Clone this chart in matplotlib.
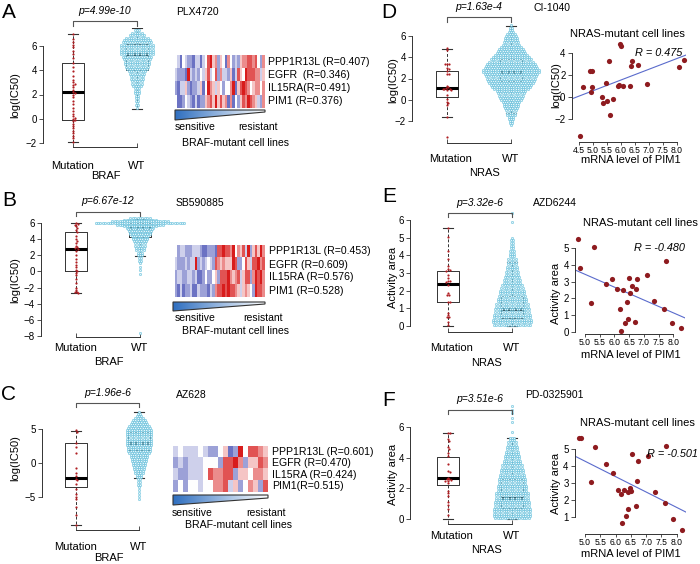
import numpy as np
import matplotlib.pyplot as plt
from matplotlib.colors import LinearSegmentedColormap
from matplotlib.lines import Line2D
from matplotlib.patches import Polygon

plt.rcParams['font.family'] = ['Liberation Sans', 'DejaVu Sans']

W, H = 700, 564

# ---------------- data ----------------
# mutant cell lines (strip points) and box stats (whislo, q1, med, q3, whishi)
a_mut = [7.0, 6.6, 6.3, 6.1, 5.9, 5.6, 5.3, 5.0, 4.6, 4.3, 3.9, 3.5, 3.2, 3.0, 2.9, 2.8, 2.6, 2.4, 2.2, 2.1,
         2.0, 1.8, 1.5, 1.2, 0.9, 0.6, 0.4, 0.2, 0.1, 0.0, -0.1, -0.2, -0.4, -0.6, -0.8, -1.0, -1.2, -1.4, -1.6, -1.9]
b_mut = [6.0, 5.9, 5.8, 5.6, 5.4, 5.1, 4.9, 4.4, 4.0, 3.8, 3.5, 3.2, 3.0, 2.9, 2.8, 2.5, 2.0, 1.6, 1.2, 0.8,
         0.5, 0.2, 0.0, -0.2, -0.5, -0.9, -1.4, -2.0, -2.3, -2.5, -2.6, -2.7]
c_mut = [4.8, 4.6, 2.9, 2.3, 1.5, -0.8, -1.4, -1.9, -2.3, -2.5, -3.1, -3.8, -4.6, -5.0, -5.3, -6.4, -7.6, -9.1]

a_box = [(-1.9, -0.1, 2.2, 4.6, 7.0), (0.8, 4.0, 5.3, 6.2, 7.45)]
b_box = [(-2.7, 0.05, 2.8, 4.85, 6.0), (1.9, 4.25, 5.4, 6.0, 6.5)]
c_box = [(-9.1, -3.6, -2.15, 3.0, 4.7), (-2.25, 1.9, 3.0, 4.6, 7.55)]
d_box = [(-1.65, 0.23, 1.08, 2.75, 4.75), (-1.28, 1.77, 2.65, 3.8, 6.9)]
e_box = [(0.02, 1.34, 2.38, 3.13, 5.53), (0.02, 0.44, 0.96, 1.72, 3.6)]
f_box = [(0.0, 2.22, 2.65, 4.07, 5.59), (0.0, 0.7, 1.39, 2.61, 5.3)]

# wild-type swarms: value of each swarm row and number of points in it
a_wt_lvl = [7.3, 7.1, 6.9, 6.7, 6.5, 6.3, 6.1, 5.9, 5.7, 5.5, 5.3, 5.1, 4.9, 4.7, 4.5, 4.3, 4.1, 3.9, 3.7, 3.5,
            3.3, 3.1, 2.9, 2.7, 2.5, 2.3, 2.1, 1.9, 1.7, 1.5, 1.3, 1.1, 0.9]
a_wt_n = [3, 5, 7, 10, 12, 13, 14, 14, 14, 14, 14, 13, 12, 11, 11, 10, 9, 8, 7, 6,
          6, 5, 5, 4, 3, 3, 3, 2, 2, 2, 1, 2, 1]
b_wt_lvl = [6.6, 6.4, 6.2, 6.0, 5.8, 5.6, 5.4, 5.2, 5.0, 4.8, 4.6, 4.4, 4.2, 4.0, 3.8, 3.5, 3.2, 2.9, 2.6, 2.3,
            2.0, 1.7, 1.3, 1.0, 0.6, 0.2, -0.3, -7.6]
b_wt_n = [9, 14, 24, 38, 20, 14, 12, 11, 10, 9, 9, 8, 7, 7, 6, 5, 5, 4, 4, 3,
          3, 2, 2, 1, 1, 1, 1, 1]
c_wt_lvl = [7.5, 7.2, 6.9, 6.6, 6.3, 6.0, 5.7, 5.4, 5.1, 4.8, 4.5, 4.2, 3.9, 3.6, 3.3, 3.0, 2.7, 2.4, 2.1, 1.8,
            1.5, 1.2, 0.9, 0.6, 0.3, 0.0, -0.3, -0.6, -0.9, -1.2, -1.5, -1.8, -2.1, -2.4, -2.8, -3.2, -3.6, -4.0,
            -4.4, -4.8, -5.3]
c_wt_n = [1, 2, 3, 4, 6, 7, 8, 9, 10, 11, 11, 11, 11, 11, 11, 11, 11, 10, 10, 10,
          9, 8, 8, 7, 7, 6, 6, 5, 5, 4, 4, 3, 3, 2, 2, 2, 1, 1, 1, 1, 1]
d_wt_lvl = [7.0, 6.8, 6.6, 6.4, 6.2, 6.0, 5.8, 5.6, 5.4, 5.2, 5.0, 4.8, 4.6, 4.4, 4.2, 4.0, 3.8, 3.6, 3.4, 3.2,
            3.0, 2.8, 2.6, 2.4, 2.2, 2.0, 1.8, 1.6, 1.4, 1.2, 1.0, 0.8, 0.6, 0.4, 0.2, 0.0, -0.2, -0.4, -0.6,
            -0.8, -1.0, -1.2, -1.4, -1.6, -1.8, -2.0, -2.2, -2.4]
d_wt_n = [1, 2, 2, 3, 4, 5, 6, 6, 7, 8, 9, 11, 12, 13, 14, 16, 18, 19, 21, 22,
          23, 24, 24, 23, 22, 21, 20, 19, 18, 17, 15, 13, 12, 11, 10, 9, 8, 7, 7,
          6, 5, 4, 4, 3, 3, 2, 2, 1]
e_wt_lvl = [6.4, 5.9, 5.0, 4.85, 4.7, 4.55, 4.4, 4.25, 4.1, 3.95, 3.8, 3.65, 3.5, 3.35, 3.2, 3.05, 2.9, 2.75,
            2.6, 2.45, 2.3, 2.15, 2.0, 1.85, 1.7, 1.55, 1.4, 1.25, 1.1, 0.95, 0.8, 0.65, 0.5, 0.35, 0.2, 0.05]
e_wt_n = [1, 1, 1, 2, 2, 2, 2, 3, 3, 3, 4, 4, 4, 5, 5, 6, 6, 7,
          8, 8, 9, 10, 11, 11, 12, 13, 13, 14, 14, 15, 15, 16, 16, 17, 17, 16]
f_wt_lvl = [7.35, 7.1, 6.9, 6.6, 6.3, 5.7, 5.3, 5.15, 5.0, 4.85, 4.7, 4.55, 4.4, 4.25, 4.1, 3.95, 3.8, 3.65,
            3.5, 3.35, 3.2, 3.05, 2.9, 2.75, 2.6, 2.45, 2.3, 2.15, 2.0, 1.85, 1.7, 1.55, 1.4, 1.25, 1.1, 0.95,
            0.8, 0.65, 0.5, 0.35, 0.2, 0.05]
f_wt_n = [1, 1, 1, 1, 1, 1, 3, 3, 4, 4, 5, 5, 6, 6, 7, 7, 8, 8,
          9, 9, 10, 10, 11, 11, 12, 12, 12, 13, 13, 13, 14, 14, 14, 14, 15, 15,
          15, 16, 16, 16, 16, 15]

# NRAS-mutant cell lines: PIM1 mRNA vs response
d_pim1 = [4.54, 4.64, 4.90, 4.98, 4.96, 4.92, 5.31, 5.37, 5.45, 5.51, 5.59, 5.62, 5.72, 5.89, 5.95, 5.98, 6.01,
          6.09, 6.32, 6.38, 6.39, 6.61, 6.93, 8.10, 8.27]
d_ic50 = [-3.5, 0.9, 2.4, 2.4, 0.9, 0.45, 0.03, -0.5, 1.33, -0.35, 3.33, -1.6, -0.2, 1.05, 1.1, 4.85, 4.65,
          1.0, 1.05, 2.87, 3.33, 2.95, 1.18, 2.73, 3.4]
e_pim1 = [4.77, 4.83, 5.32, 5.19, 5.70, 5.91, 6.10, 6.28, 6.19, 6.22, 6.36, 6.44, 6.45, 6.50, 6.53, 6.59, 6.71,
          6.72, 6.76, 7.11, 7.36, 7.70, 7.75, 7.97, 8.27]
e_act = [5.56, 3.8, 5.06, 1.74, 2.86, 3.16, 2.54, 2.5, 1.34, 0.04, 0.5, 1.77, 0.75, 3.2, 2.34, 2.74, 0.6,
         2.54, 3.14, 3.4, 1.86, 1.37, 4.24, 0.5, 0.2]
f_pim1 = [4.80, 4.87, 5.33, 5.20, 5.69, 5.90, 6.09, 6.17, 6.27, 6.20, 6.33, 6.41, 6.41, 6.47, 6.49, 6.55, 6.66,
          6.69, 6.72, 7.05, 7.29, 7.65, 7.61, 7.89, 8.16]
f_act = [5.64, 5.64, 5.1, 3.05, 4.12, 3.58, 2.6, 2.37, 2.6, 0.65, 1.1, 1.47, 2.5, 2.7, 2.56, 4.7, 1.68,
         3.1, 4.3, 4.59, 2.5, 5.19, 1.85, 0.9, 0.25]

# heatmaps (0 = deep blue, 4 = white, 8 = deep red), sensitive -> resistant
a_heat = ["431432213313478562541642325667767426",
          "322218323243573472633251375487776635",
          "213352122351486535424468157876456646",
          "411243213122567585756161425768765326"]
b_heat = ["423322233321122217787768465738257586",
          "322232338232343276565558722475377867",
          "233223323112422452777865673577268786",
          "213122311322213267787877653565428776"]
c_heat = ["3433343224512847765",
          "2323334442778625576",
          "3223334766772554665",
          "2424434466735246527"]
a_genes = ["PPP1R13L (R=0.407)", "EGFR  (R=0.346)", "IL15RA(R=0.491)", "PIM1 (R=0.376)"]
b_genes = ["PPP1R13L (R=0.453)", "EGFR (R=0.609)", "IL15RA (R=0.576)", "PIM1 (R=0.528)"]
c_genes = ["PPP1R13L (R=0.601)", "EGFR (R=0.470)", "IL15RA (R=0.424)", "PIM1(R=0.515)"]

# ---------------- helpers ----------------
fig = plt.figure(figsize=(7, 5.64), dpi=100)

AXC = '#333333'
RED = '#b01e23'
heat_cmap = LinearSegmentedColormap.from_list('bwr2', ['#3a44b0', '#ffffff', '#d81c1c'])
tri_cmap = LinearSegmentedColormap.from_list('tri', ['#2f6fc0', '#ffffff'])


def rect(x0, y0, x1, y1):
    return [x0 / W, 1 - y1 / H, (x1 - x0) / W, (y1 - y0) / H]


def txt(x, y, s, size=7.5, ha='left', va='center', **kw):
    fig.text(x / W, 1 - y / H, s, fontsize=size, ha=ha, va=va, **kw)


def fline(xs, ys, **kw):
    fig.add_artist(Line2D([x / W for x in xs], [1 - y / H for y in ys], **kw))


def place_axes(xmap, xlim, ymap, ylim):
    va, pa, vb, pb = xmap
    sx = (pb - pa) / (vb - va)
    x0 = pa + (xlim[0] - va) * sx
    x1 = pa + (xlim[1] - va) * sx
    va, pa, vb, pb = ymap
    sy = (pb - pa) / (vb - va)
    ytop = pa + (ylim[1] - va) * sy
    ybot = pa + (ylim[0] - va) * sy
    ax = fig.add_axes(rect(x0, ytop, x1, ybot))
    ax.set_xlim(xlim)
    ax.set_ylim(ylim)
    ax.patch.set_alpha(0)
    return ax, sx, -sy


def r_axes(ax, xb, yticks):
    for s in ['top', 'right']:
        ax.spines[s].set_visible(False)
    for s in ['left', 'bottom']:
        ax.spines[s].set_color(AXC)
        ax.spines[s].set_linewidth(0.7)
    ax.spines['left'].set_bounds(yticks[0], yticks[-1])
    ax.spines['bottom'].set_bounds(xb[0], xb[-1])
    ax.set_yticks(yticks)
    ax.tick_params(axis='both', length=3, width=0.6, color=AXC, labelsize=7, pad=1.5)


def swarm(vals, d):
    # simple beeswarm: each point goes to the free spot nearest the centre line
    placed = []
    out = []
    for v in vals:
        cands = [0.0]
        for px, py in placed:
            dy = v - py
            if abs(dy) < d:
                dx = np.sqrt(d * d - dy * dy)
                cands += [px + dx, px - dx]
        cands.sort(key=abs)
        for c in cands:
            if all((c - px) ** 2 + (v - py) ** 2 >= d * d - 1e-6 for px, py in placed):
                break
        placed.append((c, v))
        out.append(c)
    return out


def box_panel(mut, wt_lvl, wt_n, stats, spine_x, cx, ymap, ylim, yticks):
    k = cx[1] - cx[0]
    xlim = (1 - (cx[0] - spine_x) / k, 2.6)
    ax, sx, sy = place_axes((1, cx[0], 2, cx[1]), xlim, ymap, ylim)
    r_axes(ax, (1, 2), yticks)
    ax.set_xticks([1, 2])
    ax.set_xticklabels([])
    ax.tick_params(axis='x', direction='in')
    st = [dict(whislo=b[0], q1=b[1], med=b[2], q3=b[3], whishi=b[4]) for b in stats]
    ax.bxp(st, positions=[1, 2], widths=0.34, capwidths=0.17, showfliers=False, manage_ticks=False,
           boxprops=dict(color=AXC, lw=0.7), medianprops=dict(color='black', lw=2.2),
           whiskerprops=dict(color=AXC, lw=0.7, ls=(0, (3, 2))), capprops=dict(color=AXC, lw=0.8))
    # wild-type swarm
    dx = 2.4 / k
    xs, ys = [], []
    for lvl, n in zip(wt_lvl, wt_n):
        xs.extend(2 + (np.arange(n) - (n - 1) / 2) * dx)
        ys.extend([lvl] * n)
    ax.scatter(xs, ys, s=2.6, marker='o', facecolor='#e4f5fa', edgecolor='#5cbbd9', lw=0.4,
               zorder=3, clip_on=False)
    # mutant strip
    order = np.argsort(mut)[::-1]
    vals = np.array(mut)[order] * sy
    offs = np.array(swarm(vals, 2.0)) / k
    ax.scatter(1 + offs, np.array(mut)[order], s=2.5, color=RED, lw=0, zorder=4, clip_on=False)
    return ax


def heatmap(rows, x0, y0, x1, y1, genes, lx):
    ax = fig.add_axes(rect(x0, y0, x1, y1))
    data = np.array([[int(c) for c in r] for r in rows])
    ax.imshow(data, cmap=heat_cmap, vmin=0, vmax=8, aspect='auto', interpolation='nearest')
    ax.axis('off')
    rh = (y1 - y0) / len(rows)
    for i, g in enumerate(genes):
        txt(lx, y0 + rh * (i + 0.5), g, size=7.6)


def wedge(x0, x1, ytop, ybl, ybr):
    ax = fig.add_axes(rect(x0, ytop, x1, ybl))
    ax.set_xlim(0, 1)
    ax.set_ylim(0, 1)
    ax.axis('off')
    hr = 1 - (ybr - ytop) / (ybl - ytop)
    im = ax.imshow(np.linspace(0, 1, 256)[None, :], cmap=tri_cmap, extent=(0, 1, 0, 1), aspect='auto')
    poly = Polygon([(0, 1), (1, 1), (1, hr), (0, 0)], closed=True, fc='none', ec='#333333', lw=0.8,
                   clip_on=False)
    ax.add_patch(poly)
    im.set_clip_path(poly)


def bracket(x1, x2, y, ydrop, ptxt, ty):
    fline([x1, x1, x2, x2], [ydrop, y, y, ydrop], color='#555555', lw=0.8)
    txt((x1 + x2) / 2, ty, ptxt, size=7.5, ha='center', style='italic')


def scatter_panel(x, y, xmap, xlim, ymap, ylim, xticks, yticks):
    ax, _, _ = place_axes(xmap, xlim, ymap, ylim)
    r_axes(ax, (xticks[0], xticks[-1]), yticks)
    ax.set_xticks(xticks)
    ax.set_xticklabels(['%.1f' % t for t in xticks])
    ax.tick_params(axis='x', labelsize=6.2, length=2, pad=0.8)
    ax.scatter(x, y, s=14, color='#8e1b1f', lw=0, zorder=3, clip_on=False)
    b1, b0 = np.polyfit(x, y, 1)
    ax.plot(xlim, [b0 + b1 * xlim[0], b0 + b1 * xlim[1]], color='#5a6bcc', lw=0.8, zorder=2)
    return ax


# ---------------- left column: BRAF ----------------
box_panel(a_mut, a_wt_lvl, a_wt_n, a_box, 43, (73, 137), (6, 46, -2, 143), (-2.3, 7.5), [-2, 0, 2, 4, 6])
box_panel(b_mut, b_wt_lvl, b_wt_n, b_box, 41, (76, 140), (6, 223, -8, 336), (-8.1, 6.9),
          [-8, -6, -4, -2, 0, 2, 4, 6])
box_panel(c_mut, c_wt_lvl, c_wt_n, c_box, 42, (76, 139), (5, 429, -5, 497), (-9.9, 7.8), [-5, 0, 5])

for L, ly, yl, cx, xl_y, g_y, drug, dy, pt, pty, by, bd in [
        ('A', 12, 95, (73, 137), 166, 176, 'PLX4720', 12, 'p=4.99e-10', 15, 21, 26),
        ('B', 201, 280, (76, 140), 348, 362, 'SB590885', 203, 'p=6.67e-12', 205, 212, 216),
        ('C', 394, 458, (76, 139), 547, 558, 'AZ628', 395, 'p=1.96e-6', 397, 403, 407)]:
    txt(9, ly, L, size=15, ha='center')
    txt(15, yl, 'log(IC50)', size=8, ha='center', rotation=90)
    txt(cx[0], xl_y, 'Mutation', size=8, ha='center')
    txt(cx[1], xl_y, 'WT', size=8, ha='center')
    txt((cx[0] + cx[1]) / 2 + 1, g_y, 'BRAF', size=8, ha='center')
    txt(176, dy, drug, size=7.5)
    bracket(cx[0], cx[1], by, bd, pt, pty - 4)

heatmap(a_heat, 175, 55, 265, 108, a_genes, 268)
heatmap(b_heat, 175, 245, 265, 297, b_genes, 269)
heatmap(c_heat, 173, 446, 268, 492, c_genes, 272)
wedge(175, 265, 110, 120, 112)
wedge(173, 265, 302, 311, 304)
wedge(173, 268, 495, 505, 498)
for x0, x1, y1, y2, xb in [(175, 278, 127, 143, 182), (175, 283, 318, 331, 182), (172, 286, 513, 525, 185)]:
    txt(x0, y1, 'sensitive', size=7.5)
    txt(x1, y1, 'resistant', size=7.5, ha='right')
    txt(xb, y2, 'BRAF-mutant cell lines', size=7.6)

# ---------------- right column: NRAS ----------------
box_panel(d_ic50, d_wt_lvl, d_wt_n, d_box, 412, (447, 511), (6, 36, -2, 121), (-4.1, 7.2), [-2, 0, 2, 4, 6])
box_panel(e_act, e_wt_lvl, e_wt_n, e_box, 410, (448, 512), (6, 220, 0, 326), (-0.32, 6.6),
          [0, 1, 2, 3, 4, 5, 6])
box_panel(f_act, f_wt_lvl, f_wt_n, f_box, 410, (448, 512), (6, 427, 0, 519), (-0.33, 7.0), [0, 2, 4, 6])

for L, ly, yl, yname, cx, xl_y, g_y, drug, dx0, dy, pt, pty, by, bd in [
        ('D', 13, 80, 'log(IC50)', (447, 511), 159, 173, 'CI-1040', 533, 8, 'p=1.63e-4', 11, 17, 22),
        ('E', 197, 277, 'Activity area', (448, 512), 348, 363, 'AZD6244', 533, 203, 'p=3.32e-6', 207, 213, 217),
        ('F', 400, 474, 'Activity area', (448, 512), 536, 550, 'PD-0325901', 525, 395, 'p=3.51e-6', 403, 410, 414)]:
    txt(389, ly, L, size=15, ha='center')
    txt(393, yl, yname, size=8, ha='center', rotation=90)
    txt(cx[0] + 4, xl_y, 'Mutation', size=8, ha='center')
    txt(cx[1], xl_y, 'WT', size=8, ha='center')
    txt((cx[0] + cx[1]) / 2 + 6, g_y, 'NRAS', size=8, ha='center')
    txt(dx0, dy, drug, size=7.5)
    bracket(cx[0], cx[1], by, bd, pt, pty - 4)

scatter_panel(d_pim1, d_ic50, (4.5, 579, 8.0, 676.7), (4.24, 8.35), (4, 53.3, -2, 119.3), (-4.04, 5.0),
              [4.5, 5.0, 5.5, 6.0, 6.5, 7.0, 7.5, 8.0], [-2, 0, 2, 4])
scatter_panel(e_pim1, e_act, (5.0, 585, 8.0, 673.3), (4.66, 8.4), (5, 248.3, 0, 331.7), (-0.14, 5.72),
              [5.0, 5.5, 6.0, 6.5, 7.0, 7.5, 8.0], [0, 1, 2, 3, 4, 5])
scatter_panel(f_pim1, f_act, (5.0, 585, 8.0, 676.7), (4.67, 8.3), (5, 449, 1, 517.3), (0.0, 5.9),
              [5.0, 5.5, 6.0, 6.5, 7.0, 7.5, 8.0], [1, 2, 3, 4, 5])

for ty, tx, yname, yl_y, xl_y, rx, ry, rs, rha in [
        (34, 627, 'log(IC50)', 85, 160, 635, 53, 'R = 0.475', 'left'),
        (223, 640, 'Activity area', 293, 355, 685, 248, 'R = -0.480', 'right'),
        (423, 637, 'Activity area', 483, 554, 698, 454, 'R = -0.501', 'right')]:
    txt(tx, ty, 'NRAS-mutant cell lines', size=8, ha='center')
    txt(556, yl_y, yname, size=8, ha='center', rotation=90)
    txt(631, xl_y, 'mRNA level of PIM1', size=8, ha='center')
    txt(rx, ry, rs, size=7.8, ha=rha, style='italic')

fig.savefig('out.png', dpi=100)
